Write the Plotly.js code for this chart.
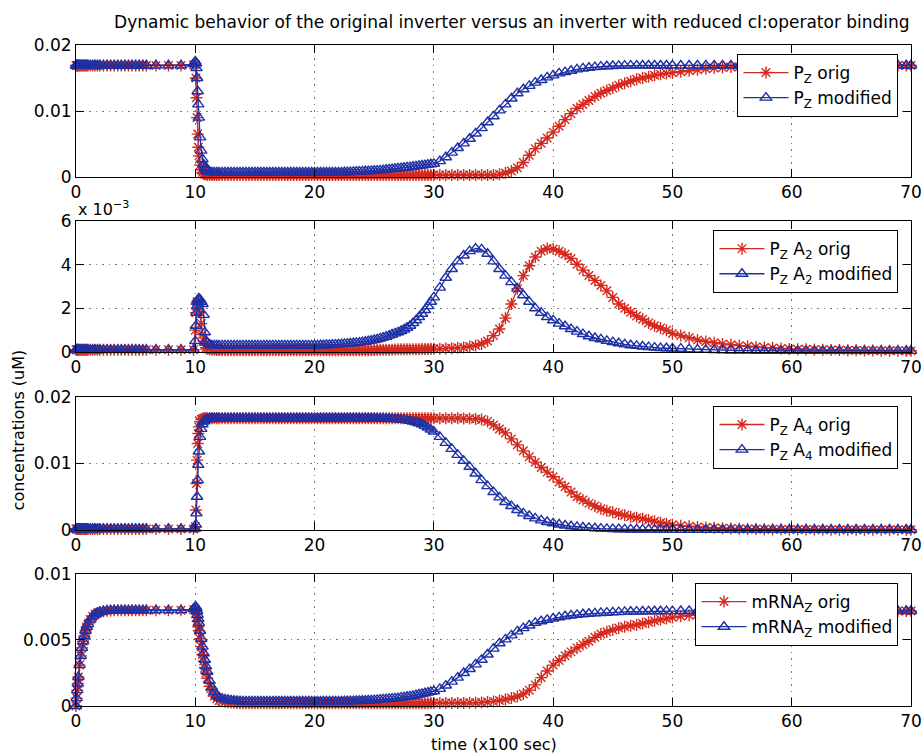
<!DOCTYPE html>
<html>
<head>
<meta charset="utf-8">
<script src="https://cdn.plot.ly/plotly-3.0.1.min.js"></script>
<style>html,body{margin:0;padding:0;background:#fff;}#chart{width:924px;height:754px;}</style>
</head>
<body>
<div id="chart"></div>
<script>
// time in units of 100 s (solver sample points)
const time = [
0,0.05,0.1,0.15,0.2,0.3,0.4,0.5,0.6,0.7,0.8,0.9,1,
1.2,1.4,1.6,1.8,2,2.3,2.6,2.9,3.2,3.5,3.8,4.1,4.4,4.7,5,5.3,5.6,5.9,
6.7,7.75,8.8,9.85,
10,10.05,10.1,10.15,10.2,10.25,10.3,10.4,10.5,10.6,10.7,10.8,10.9,11,11.2,11.4,11.6,11.8,12,
12.25,12.5,12.75,13,13.25,13.5,13.75,14,14.25,14.5,14.75,15,
15.25,15.5,15.75,16,16.25,16.5,16.75,17,17.25,17.5,17.75,18,
18.25,18.5,18.75,19,19.25,19.5,19.75,20,20.25,20.5,20.75,21,
21.25,21.5,21.75,22,22.25,22.5,22.75,23,23.25,23.5,23.75,24,
24.25,24.5,24.75,25,25.25,25.5,25.75,26,26.25,26.5,26.75,27,
27.25,27.5,27.75,28,28.25,28.5,28.75,29,29.25,29.5,29.75,30,
30.5,31,31.5,32,32.5,33,33.5,34,34.5,35,35.5,36,36.5,37,37.5,38,38.5,39,39.5,40,40.5,41,41.5,42,42.5,43,43.5,44,44.5,45,45.5,46,46.5,47,47.5,48,48.5,49,49.5,50,
50.7,51.4,52.1,52.8,53.5,54.2,54.9,55.6,56.3,57,57.7,58.4,59.1,59.8,60.5,61.2,61.9,62.6,63.3,64,64.7,65.4,66.1,66.8,67.5,68.2,68.9,69.6,70
];
// all concentrations in units of 1e-3 uM
const pzOrig = [
16.9,16.9,16.9,16.9,16.9,16.9,16.9,16.9,16.9,16.9,16.9,16.9,16.9,
16.9,16.9,16.9,16.9,16.9,16.9,16.9,16.9,16.9,16.9,16.9,16.9,16.9,16.9,16.9,16.9,16.9,16.9,
16.9,16.9,16.9,17.0,
17.0,15.0,12.0,9.0,6.5,4.5,3.2,1.8,1.1,0.7,0.5,0.4,0.4,0.3,0.3,0.3,0.3,0.3,0.3,
0.3,0.3,0.3,0.3,0.3,0.3,0.3,0.3,0.3,0.3,0.3,0.3,
0.3,0.3,0.3,0.3,0.3,0.3,0.3,0.3,0.3,0.3,0.3,0.3,
0.3,0.3,0.3,0.3,0.3,0.3,0.3,0.3,0.3,0.3,0.3,0.3,
0.3,0.3,0.3,0.3,0.3,0.3,0.3,0.3,0.3,0.3,0.3,0.3,
0.3,0.3,0.3,0.3,0.3,0.3,0.3,0.3,0.3,0.3,0.3,0.3,
0.3,0.3,0.3,0.3,0.3,0.3,0.3,0.3,0.3,0.3,0.3,0.3,
0.3,0.3,0.3,0.3,0.3,0.3,0.3,0.3,0.3,0.3,0.4,0.6,0.9,1.4,2.2,3.3,4.3,5.1,5.9,6.8,7.7,8.7,9.6,10.4,11.0,11.6,12.2,12.7,13.1,13.5,13.9,14.2,14.5,14.8,15.0,15.2,15.4,15.55,15.7,15.8,
15.95,16.1,16.25,16.4,16.5,16.6,16.65,16.7,16.75,16.78,16.8,16.82,16.84,16.86,16.87,16.88,16.88,16.89,16.89,16.9,16.9,16.9,16.9,16.9,16.9,16.9,16.9,16.9,16.9
];
const pzMod = [
16.9,16.9,16.9,16.9,16.9,16.9,16.9,16.9,16.9,16.9,16.9,16.9,16.9,
16.9,16.9,16.9,16.9,16.9,16.9,16.9,16.9,16.9,16.9,16.9,16.9,16.9,16.9,16.9,16.9,16.9,16.9,
16.9,16.9,16.9,17.1,
17.5,17.2,16.5,15.0,13.0,11.0,9.0,6.0,4.0,2.7,1.9,1.4,1.1,0.9,0.8,0.7,0.7,0.7,0.7,
0.7,0.7,0.7,0.7,0.7,0.7,0.7,0.7,0.7,0.7,
0.7,0.7,0.7,0.7,0.7,0.7,0.7,0.7,0.7,0.7,
0.7,0.7,0.7,0.7,0.7,0.7,0.7,0.7,0.7,0.7,
0.7,0.7,0.7,0.7,0.7,0.7,0.7,0.7,0.7,0.7,
0.71,0.72,0.73,0.75,0.77,0.8,0.82,0.85,0.87,0.9,0.92,0.95,0.97,1.0,1.05,1.1,1.15,1.2,1.25,1.3,1.35,1.4,1.45,1.5,1.56,1.62,1.68,1.75,1.81,1.88,1.94,2.0,
2.4,3.0,3.7,4.4,5.1,5.8,6.6,7.4,8.3,9.2,10.1,11.0,11.9,12.7,13.3,13.8,14.3,14.7,15.1,15.4,15.7,15.9,16.1,16.3,16.45,16.55,16.65,16.72,16.78,16.82,16.85,16.87,16.88,16.89,16.9,16.9,16.9,16.9,16.9,16.9,
16.9,16.9,16.9,16.9,16.9,16.9,16.9,16.9,16.9,16.9,16.9,16.9,16.9,16.9,16.9,16.9,16.9,16.9,16.9,16.9,16.9,16.9,16.9,16.9,16.9,16.9,16.9,16.9,16.9
];
const pzA2Orig = [
0.1,0.1,0.1,0.1,0.1,0.1,0.1,0.1,0.1,0.1,0.1,0.1,0.1,
0.1,0.1,0.1,0.1,0.1,0.1,0.1,0.1,0.1,0.1,0.1,0.1,0.1,0.1,0.1,0.1,0.1,0.1,
0.1,0.1,0.1,0.1,
1.0,1.8,2.2,2.3,2.3,2.2,2.1,1.8,1.3,0.8,0.5,0.3,0.2,0.15,0.12,0.1,0.1,0.09,0.09,
0.08,0.08,0.08,0.08,0.08,0.08,0.08,0.08,0.08,0.08,
0.08,0.08,0.08,0.08,0.08,0.08,0.08,0.08,0.08,0.08,
0.08,0.08,0.08,0.08,0.08,0.08,0.08,0.08,0.08,0.08,
0.08,0.08,0.08,0.08,0.08,0.08,0.08,0.08,0.08,0.08,
0.08,0.08,0.08,0.08,0.08,0.08,0.08,0.08,0.08,0.08,
0.08,
0.09,0.09,0.1,0.1,0.1,0.1,0.1,0.11,0.12,0.12,0.12,0.12,0.12,0.13,0.13,0.13,0.14,0.14,0.14,0.15,0.15,
0.15,0.16,0.17,0.19,0.21,0.25,0.3,0.37,0.5,0.75,1.05,1.55,2.2,2.9,3.5,3.95,4.35,4.62,4.74,4.72,4.62,4.48,4.28,4.02,3.75,3.5,3.28,3.05,2.8,2.5,2.2,2.0,1.82,1.65,1.5,1.33,1.2,1.1,1.0,0.85,
0.75,0.65,0.55,0.48,0.42,0.37,0.33,0.29,0.26,0.23,0.2,0.18,0.16,0.14,0.13,0.12,0.11,0.1,0.09,0.085,0.08,0.075,0.07,0.065,0.06,0.058,0.055,0.053,0.05
];
const pzA2Mod = [
0.1,0.1,0.1,0.1,0.1,0.1,0.1,0.1,0.1,0.1,0.1,0.1,0.1,
0.1,0.1,0.1,0.1,0.1,0.1,0.1,0.1,0.1,0.1,0.1,0.1,0.1,0.1,0.1,0.1,0.1,0.1,
0.1,0.1,0.1,0.1,
0.5,1.2,1.8,2.1,2.3,2.4,2.45,2.4,2.3,2.2,1.7,0.9,0.5,0.42,0.35,0.3,0.3,0.3,0.3,
0.3,0.3,0.3,0.3,0.3,0.3,0.3,0.3,
0.3,0.3,0.3,0.3,0.3,0.3,0.3,0.3,
0.3,0.3,0.3,0.3,0.3,0.3,0.3,0.3,
0.3,0.3,0.3,0.3,0.3,0.3,0.3,0.3,
0.3,0.31,0.31,0.32,0.32,0.33,0.34,0.35,0.36,0.37,0.38,0.39,0.4,0.42,0.43,0.45,0.47,0.5,0.52,0.55,
0.58,0.62,0.66,0.7,0.75,0.8,0.85,0.9,0.96,1.03,1.11,1.2,1.32,1.45,1.6,1.75,1.92,2.1,2.3,2.5,
2.95,3.4,3.8,4.15,4.42,4.62,4.74,4.7,4.5,4.15,3.8,3.5,3.2,2.9,2.6,2.3,2.0,1.8,1.6,1.45,1.3,1.18,1.05,0.93,0.82,0.72,0.64,0.58,0.51,0.45,0.4,0.35,0.31,0.28,0.25,0.22,0.2,0.18,0.17,0.16,
0.15,0.13,0.11,0.1,0.09,0.08,0.07,0.065,0.06,0.055,0.05,0.05,0.05,0.05,0.05,0.05,0.05,0.05,0.05,0.05,0.05,0.05,0.05,0.05,0.05,0.05,0.05,0.05,0.05
];
const pzA4Orig = [
0.15,0.15,0.15,0.15,0.15,0.15,0.15,0.15,0.15,0.15,0.15,0.15,0.15,
0.15,0.15,0.15,0.15,0.15,0.15,0.15,0.15,0.15,0.15,0.15,0.15,0.15,0.15,0.15,0.15,0.15,0.15,
0.15,0.15,0.15,0.15,
0.5,3.0,7.0,10.5,13.0,14.5,15.5,16.3,16.6,16.7,16.8,16.8,16.8,16.8,16.8,16.8,16.8,16.8,16.8,
16.8,16.8,16.8,16.8,16.8,16.8,16.8,16.8,16.8,16.8,16.8,16.8,
16.8,16.8,16.8,16.8,16.8,16.8,16.8,16.8,16.8,16.8,16.8,16.8,
16.8,16.8,16.8,16.8,16.8,16.8,16.8,16.8,16.8,16.8,16.8,16.8,
16.8,16.8,16.8,16.8,16.8,16.8,16.8,16.8,16.8,16.8,16.8,16.8,
16.8,16.8,16.8,16.8,16.8,16.8,16.8,16.8,16.8,16.8,16.8,16.8,
16.8,16.8,16.8,16.8,16.8,16.8,16.8,16.8,16.8,16.8,16.8,16.8,
16.8,16.8,16.8,16.8,16.78,16.75,16.7,16.6,16.3,15.8,15.2,14.6,13.7,12.8,11.9,11.0,10.2,9.4,8.7,8.0,7.2,6.5,5.7,5.0,4.5,4.0,3.6,3.2,2.9,2.65,2.4,2.2,2.0,1.85,1.7,1.5,1.3,1.1,0.95,0.78,
0.65,0.55,0.46,0.38,0.32,0.27,0.23,0.19,0.16,0.14,0.12,0.1,0.09,0.08,0.07,0.065,0.06,0.055,0.05,0.05,0.05,0.05,0.05,0.05,0.05,0.05,0.05,0.05,0.05
];
const pzA4Mod = [
0.15,0.15,0.15,0.15,0.15,0.15,0.15,0.15,0.15,0.15,0.15,0.15,0.15,
0.15,0.15,0.15,0.15,0.15,0.15,0.15,0.15,0.15,0.15,0.15,0.15,0.15,0.15,0.15,0.15,0.15,0.15,
0.15,0.15,0.15,0.15,
0.2,0.8,2.5,5.0,7.5,9.8,11.8,14.0,15.2,15.9,16.3,16.5,16.6,16.7,16.8,16.8,16.8,16.8,16.8,
16.8,16.8,16.8,16.8,16.8,16.8,16.8,16.8,16.8,16.8,16.8,16.8,16.8,
16.8,16.8,16.8,16.8,16.8,16.8,16.8,16.8,16.8,16.8,16.8,16.8,16.8,
16.8,16.8,16.8,16.8,16.8,16.8,16.8,16.8,16.8,16.8,16.8,16.8,16.8,
16.8,16.8,16.8,16.8,16.8,16.8,16.8,16.8,16.8,16.8,16.8,16.8,16.8,
16.79,16.78,16.77,16.75,16.73,16.7,16.68,16.65,16.6,16.55,16.48,16.4,16.3,16.2,16.05,15.9,15.65,15.4,15.1,14.8,
14.0,13.1,12.2,11.3,10.4,9.5,8.5,7.5,6.6,5.7,4.9,4.2,3.6,3.0,2.5,2.1,1.75,1.45,1.2,1.0,0.82,0.68,0.56,0.46,0.38,0.31,0.26,0.21,0.17,0.14,0.12,0.1,0.08,0.07,0.06,0.05,0.045,0.04,0.035,0.03,
0.03,0.03,0.03,0.03,0.03,0.03,0.03,0.03,0.03,0.03,0.03,0.03,0.03,0.03,0.03,0.03,0.03,0.03,0.03,0.03,0.03,0.03,0.03,0.03,0.03,0.03,0.03,0.03,0.03
];
const mrnaOrig = [
0,0.6,1.2,1.7,2.2,3.1,3.8,4.4,4.9,5.3,5.7,6.0,6.2,
6.55,6.8,6.95,7.05,7.12,7.18,7.22,7.24,7.25,7.25,7.25,7.25,7.25,7.25,7.25,7.25,7.25,7.25,
7.25,7.25,7.25,7.3,
7.3,7.2,7.0,6.7,6.4,6.0,5.7,5.1,4.5,3.9,3.4,2.9,2.5,2.1,1.5,1.05,0.75,0.55,0.42,
0.36,0.32,0.29,0.26,0.24,0.22,0.21,
0.2,0.2,0.2,0.2,0.2,0.2,0.2,0.2,0.2,0.2,
0.2,0.2,0.2,0.2,0.2,0.2,0.2,0.2,0.2,0.2,
0.2,0.2,0.2,0.2,0.2,0.2,0.2,0.2,0.2,0.2,
0.2,0.2,0.2,0.2,0.2,0.2,0.2,0.2,0.2,0.2,
0.2,0.2,0.2,0.2,0.2,0.2,0.2,0.2,0.2,0.2,
0.2,0.2,0.2,0.2,0.2,0.2,0.2,0.2,0.2,
0.2,0.21,0.21,0.21,0.22,0.22,
0.22,0.22,0.22,0.23,0.23,0.24,0.25,0.27,0.3,0.35,0.42,0.5,0.6,0.72,0.9,1.2,1.6,2.15,2.65,3.1,3.45,3.8,4.1,4.4,4.65,4.9,5.2,5.45,5.62,5.78,5.9,6.0,6.08,6.16,6.25,6.35,6.45,6.55,6.62,6.7,
6.8,6.87,6.93,6.98,7.02,7.05,7.08,7.1,7.12,7.14,7.15,7.16,7.17,7.18,7.19,7.19,7.2,7.2,7.2,7.2,7.2,7.2,7.2,7.2,7.2,7.2,7.2,7.2,7.2
];
const mrnaMod = [
0,0.6,1.2,1.7,2.2,3.1,3.8,4.4,4.9,5.3,5.7,6.0,6.2,
6.55,6.8,6.95,7.05,7.12,7.18,7.22,7.24,7.25,7.25,7.25,7.25,7.25,7.25,7.25,7.25,7.25,7.25,
7.25,7.25,7.25,7.35,
7.5,7.5,7.4,7.2,6.9,6.6,6.3,5.7,5.1,4.5,4.0,3.5,3.0,2.6,1.9,1.4,1.05,0.8,0.65,
0.56,0.5,0.46,0.42,0.4,0.38,0.36,
0.35,0.35,0.35,0.35,0.35,0.35,0.35,0.35,0.35,0.35,0.35,
0.35,0.35,0.35,0.35,0.35,0.35,0.35,0.35,0.35,0.35,0.35,
0.35,0.35,0.35,0.35,0.35,0.35,0.35,0.35,0.35,0.35,0.35,
0.35,0.36,0.36,0.37,0.37,0.38,0.39,0.4,0.41,0.42,0.43,0.45,0.46,0.48,0.5,0.52,0.54,0.56,0.58,0.6,0.63,0.66,0.7,0.73,0.77,0.82,0.87,0.92,0.97,1.02,1.07,1.12,
1.3,1.55,1.85,2.15,2.5,2.8,3.15,3.5,3.9,4.35,4.75,5.05,5.35,5.65,5.9,6.1,6.3,6.42,6.53,6.63,6.72,6.8,6.86,6.91,6.95,6.99,7.02,7.05,7.07,7.09,7.11,7.13,7.14,7.15,7.16,7.17,7.18,7.18,7.19,7.19,
7.2,7.2,7.2,7.2,7.2,7.2,7.2,7.2,7.2,7.2,7.2,7.2,7.2,7.2,7.2,7.2,7.2,7.2,7.2,7.2,7.2,7.2,7.2,7.2,7.2,7.2,7.2,7.2,7.2
];
const xTicks = [0,10,20,30,40,50,60,70];
const legendNames = [
  ['P<sub>Z</sub> orig','P<sub>Z</sub> modified'],
  ['P<sub>Z</sub> A<sub>2</sub> orig','P<sub>Z</sub> A<sub>2</sub> modified'],
  ['P<sub>Z</sub> A<sub>4</sub> orig','P<sub>Z</sub> A<sub>4</sub> modified'],
  ['mRNA<sub>Z</sub> orig','mRNA<sub>Z</sub> modified']
];
const yTickVals = [[0,10,20],[0,2,4,6],[0,10,20],[0,5,10]];
const yTickText = [['0','0.01','0.02'],['0','2','4','6'],['0','0.01','0.02'],['0','0.005','0.01']];
const yRanges = [[0,20],[0,6],[0,20],[0,10]];

const series = [[pzOrig,pzMod],[pzA2Orig,pzA2Mod],[pzA4Orig,pzA4Mod],[mrnaOrig,mrnaMod]];
const lenErrors = [];
series.forEach(function(p,i){p.forEach(function(s,j){ if(s.length!==time.length) lenErrors.push('s'+i+'-'+j+':'+s.length+'/'+time.length); });});

const RED = 'rgb(214,40,28)';
const BLUE = 'rgb(30,48,165)';
const FONT = 'DejaVu Sans, Verdana, sans-serif';

const traces = [];
series.forEach(function(pair, i){
  const sfx = i===0 ? '' : String(i+1);
  traces.push({
    x: time, y: pair[0], type:'scatter', mode:'lines+markers', name: legendNames[i][0],
    xaxis:'x'+sfx, yaxis:'y'+sfx, legend: 'legend'+sfx, cliponaxis:false,
    line:{color:RED,width:1.3},
    marker:{symbol:'asterisk-open',size:10,color:RED,line:{color:RED,width:1.4}}
  });
  traces.push({
    x: time, y: pair[1], type:'scatter', mode:'lines+markers', name: legendNames[i][1],
    xaxis:'x'+sfx, yaxis:'y'+sfx, legend: 'legend'+sfx, cliponaxis:false,
    line:{color:BLUE,width:1.3},
    marker:{symbol:'triangle-up-open',size:10,color:BLUE,line:{color:BLUE,width:1.4}}
  });
});

const domains = [[0.8003,1],[0.5356,0.7337],[0.2663,0.4675],[0,0.1997]];
const legendTops = [0.9864,0.720,0.4539,0.186];

const layout = {
  width:924, height:754,
  margin:{l:76,r:13,t:45,b:48,pad:0},
  paper_bgcolor:'#fff', plot_bgcolor:'#fff',
  font:{family:FONT,size:17,color:'#000'},
  showlegend:true,
  title:{text:'Dynamic behavior of the original inverter versus an inverter with reduced cI:operator binding',
    font:{family:FONT,size:17,color:'#000'}, xref:'paper', x:0.522, xanchor:'center', yref:'container', y:0.971, yanchor:'middle'},
  annotations:[
    {text:'x 10<sup>\u22123</sup>', xref:'paper', yref:'paper', x:0, xanchor:'left', y:0.7337, yanchor:'bottom', yshift:0, showarrow:false, font:{family:FONT,size:16,color:'#000'}},
    {text:'concentrations (uM)', xref:'paper', yref:'paper', x:-0.069, xanchor:'center', y:0.4175, yanchor:'middle', textangle:-90, showarrow:false, font:{family:FONT,size:16,color:'#000'}},
    {text:'time (x100 sec)', xref:'paper', yref:'paper', x:0.5, xanchor:'center', y:-0.059, yanchor:'middle', showarrow:false, font:{family:FONT,size:16,color:'#000'}}
  ]
};
if (lenErrors.length) layout.annotations.push({text:'LEN ERR '+lenErrors.join(' '), xref:'paper', yref:'paper', x:0.5, y:0.5, showarrow:false, font:{size:20,color:'magenta'}});

domains.forEach(function(d, i){
  const sfx = i===0 ? '' : String(i+1);
  layout['xaxis'+sfx] = {
    domain:[0,1], anchor:'y'+sfx, range:[0,70], tickvals:xTicks, ticktext:xTicks.map(String),
    showline:true, linecolor:'#000', linewidth:1, mirror:'ticks', ticks:'inside', ticklen:8, tickcolor:'#000',
    showgrid:true, gridcolor:'#777', griddash:'1.5px,5px', gridwidth:1, zeroline:false,
    ticklabeloverflow:'allow',
    tickfont:{family:FONT,size:17,color:'#000'}, fixedrange:true
  };
  layout['yaxis'+sfx] = {
    domain:d, anchor:'x'+sfx, range:yRanges[i], tickvals:yTickVals[i], ticktext:yTickText[i],
    showline:true, linecolor:'#000', linewidth:1, mirror:'ticks', ticks:'inside', ticklen:8, tickcolor:'#000',
    showgrid:true, gridcolor:'#777', griddash:'1.5px,5px', gridwidth:1, zeroline:false,
    ticklabeloverflow:'allow',
    tickfont:{family:FONT,size:17,color:'#000'}, fixedrange:true
  };
  layout['legend'+sfx] = {
    x:0.985, xanchor:'right', xref:'paper', y:legendTops[i], yanchor:'top', yref:'paper',
    bgcolor:'#fff', bordercolor:'#000', borderwidth:1, itemwidth:45,
    font:{family:FONT,size:17,color:'#000'}, tracegroupgap:0
  };
});

Plotly.newPlot('chart', traces, layout, {displayModeBar:false, staticPlot:true});
</script>
</body>
</html>
